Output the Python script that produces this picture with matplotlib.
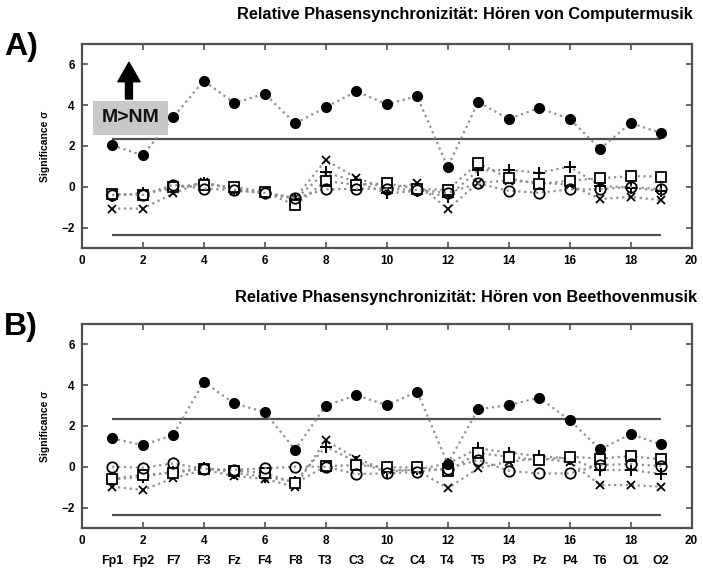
"""Relative Phasensynchronizität: Signifikanz pro Elektrode (Computer- vs. Beethovenmusik)."""
import matplotlib
matplotlib.use("Agg")
import matplotlib.pyplot as plt
import numpy as np

plt.rcParams["font.family"] = ["Liberation Sans", "DejaVu Sans"]
plt.rcParams["font.weight"] = "bold"

electrodes = ["Fp1", "Fp2", "F7", "F3", "Fz", "F4", "F8", "T3", "C3", "Cz",
              "C4", "T4", "T5", "P3", "Pz", "P4", "T6", "O1", "O2"]
threshold = 2.35

# A) Computermusik
top_filled = [2.03, 1.54, 3.40, 5.20, 4.10, 4.56, 3.10, 3.89, 4.67, 4.05,
              4.43, 0.96, 4.15, 3.32, 3.86, 3.32, 1.86, 3.12, 2.63]
top_circle = [-0.40, -0.40, 0.10, -0.10, -0.15, -0.30, -0.55, -0.13, -0.10, -0.10,
              -0.16, -0.30, 0.16, -0.20, -0.30, -0.13, -0.13, 0.00, -0.13]
top_square = [-0.35, -0.40, 0.00, 0.10, 0.00, -0.25, -0.90, 0.28, 0.10, 0.16,
              -0.10, -0.16, 1.16, 0.41, 0.13, 0.30, 0.41, 0.52, 0.50]
top_plus = [-0.45, -0.30, -0.10, 0.20, -0.10, -0.30, -0.60, 0.70, 0.25, -0.33,
            -0.20, -0.49, 0.80, 0.82, 0.69, 0.98, 0.05, -0.05, -0.20]
top_cross = [-1.07, -1.07, -0.33, 0.25, -0.20, -0.30, -0.55, 1.30, 0.44, -0.10,
             0.16, -1.10, 0.20, 0.30, 0.20, 0.10, -0.60, -0.50, -0.66]

# B) Beethovenmusik
bot_filled = [1.39, 1.06, 1.55, 4.16, 3.10, 2.68, 0.83, 2.99, 3.51, 3.02,
              3.67, 0.15, 2.82, 3.02, 3.38, 2.28, 0.85, 1.60, 1.09]
bot_circle = [0.00, -0.05, 0.16, -0.10, -0.15, -0.08, 0.00, 0.00, -0.36, -0.33,
              -0.25, -0.10, 0.33, -0.20, -0.33, -0.33, 0.08, 0.13, 0.03]
bot_square = [-0.60, -0.40, -0.30, -0.10, -0.20, -0.30, -0.82, 0.03, 0.08, -0.03,
              -0.03, -0.20, 0.66, 0.49, 0.33, 0.49, 0.40, 0.52, 0.36]
bot_plus = [-0.62, -0.50, -0.25, -0.05, -0.30, -0.50, -0.73, 0.98, 0.25, -0.25,
            -0.13, 0.15, 0.90, 0.69, 0.52, 0.40, -0.16, -0.16, -0.36]
bot_cross = [-0.98, -1.14, -0.57, -0.15, -0.45, -0.60, -0.98, 1.30, 0.40, -0.16,
             -0.16, -1.06, -0.08, 0.25, 0.40, 0.25, -0.90, -0.90, -0.98]

LINE = "#909090"
FRAME = "#505050"


def draw_panel(ax, filled, circle, square, plus, cross):
    x = np.arange(1, len(filled) + 1)
    ax.hlines([threshold, -threshold], 1, len(filled), color="#505050", lw=1.6)
    kw = dict(ls=":", color=LINE, lw=1.6)
    ax.plot(x, cross, **kw, marker="x", ms=6, mec="black", mew=1.3)
    ax.plot(x, plus, **kw, marker="+", ms=8, mec="black", mew=1.4)
    ax.plot(x, square, **kw, marker="s", ms=6.5, mfc="white", mec="black", mew=1.3)
    ax.plot(x, circle, **kw, marker="o", ms=7.5, mfc="none", mec="black", mew=1.3)
    ax.plot(x, filled, **kw, marker="o", ms=7, mfc="black", mec="black")
    ax.set_xlim(0, 20)
    ax.set_ylim(-3, 7)
    ax.set_xticks(range(0, 21, 2))
    ax.set_yticks(range(-2, 7, 2))
    ax.tick_params(direction="in", top=True, right=True, length=4,
                   width=1.2, color=FRAME, labelsize=8.5, pad=5)
    for s in ax.spines.values():
        s.set_color(FRAME)
        s.set_linewidth(1.6)
    ax.set_ylabel("Significance \u03c3", fontsize=7.5, fontweight="bold", labelpad=8)


fig = plt.figure(figsize=(7.03, 5.72), dpi=100)
ax1 = fig.add_axes([0.1162, 0.5666, 0.8677, 0.3566])
ax2 = fig.add_axes([0.1162, 0.0771, 0.8677, 0.3566])

draw_panel(ax1, top_filled, top_circle, top_square, top_plus, top_cross)
draw_panel(ax2, bot_filled, bot_circle, bot_square, bot_plus, bot_cross)

for i, name in enumerate(electrodes, start=1):
    ax2.text(i, -0.16, name, transform=ax2.get_xaxis_transform(),
             ha="center", va="center", fontsize=9, fontweight="bold")

fig.text(0.985, 0.975, "Relative Phasensynchronizität: Hören von Computermusik",
         ha="right", va="center", fontsize=11.8, fontweight="bold")
fig.text(0.992, 0.48, "Relative Phasensynchronizität: Hören von Beethovenmusik",
         ha="right", va="center", fontsize=11.8, fontweight="bold")
fig.text(0.006, 0.918, "A)", ha="left", va="center", fontsize=23, fontweight="bold")
fig.text(0.006, 0.428, "B)", ha="left", va="center", fontsize=23, fontweight="bold")

# Hinweis-Box M>NM mit Pfeil
ax1.text(1.6, 3.37, "M>NM", ha="center", va="center",
         fontsize=14, fontweight="bold", color="#111111",
         bbox=dict(boxstyle="square,pad=0.42", fc="#c8c8c8", ec="none"))
ax1.annotate("", xy=(1.55, 6.1), xytext=(1.55, 4.3),
             arrowprops=dict(width=5, headwidth=16, headlength=14,
                             fc="black", ec="black", shrink=0))

fig.savefig("out.png", dpi=100)
